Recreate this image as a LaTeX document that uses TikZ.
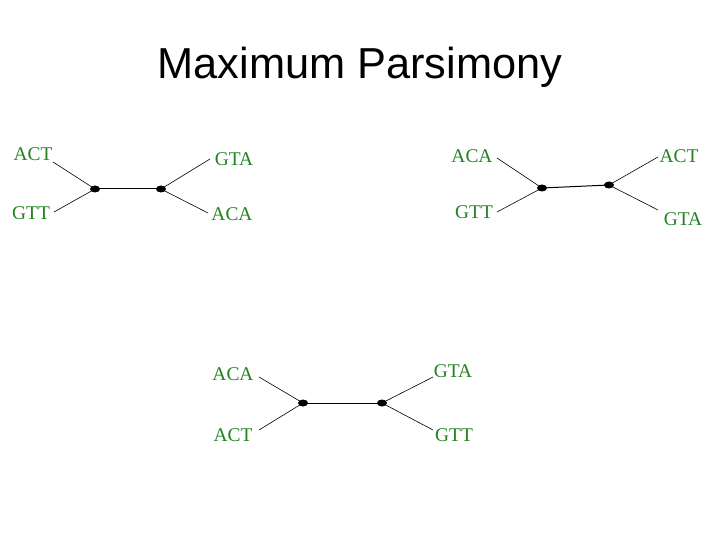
\documentclass[tikz,border=0pt]{standalone}
\usepackage{fontspec}
\usetikzlibrary{shapes.geometric}
\setmainfont{Liberation Serif}
\newfontfamily\titlefont{Liberation Sans}
\definecolor{labgreen}{RGB}{34,130,34}
\begin{document}
\begin{tikzpicture}[x=1bp,y=-1bp,
  lab/.style={inner sep=0pt,text=labgreen,font=\fontsize{19.5}{20}\selectfont},
  dot/.style={ellipse,fill=black,minimum width=10bp,minimum height=7bp,inner sep=0pt},
  edge/.style={draw=black,line width=0.6bp},
  mid/.style={draw=black,line width=1bp}]
\useasboundingbox (0,0) rectangle (720,540);
\node[inner sep=0pt,font=\titlefont\fontsize{43.5}{45}\selectfont] (title) at (360,67) {Maximum Parsimony};
% tree 1
\node[lab] (t1a) at (33,154) {ACT};
\node[lab] (t1b) at (31,213) {GTT};
\node[lab] (t1c) at (234,159) {GTA};
\node[lab] (t1d) at (232,214) {ACA};
\node[dot] (t1n1) at (95,189) {};
\node[dot] (t1n2) at (161,189) {};
\coordinate (t1ae) at (53,162);
\coordinate (t1be) at (54,212);
\coordinate (t1ce) at (210,159);
\coordinate (t1de) at (208,213);
\draw[edge] (t1ae) -- (t1n1.center) -- (t1be);
\draw[mid] (t1n1.center) -- (t1n2.center);
\draw[edge] (t1ce) -- (t1n2.center) -- (t1de);
% tree 2
\node[lab] (t2a) at (472,156) {ACA};
\node[lab] (t2b) at (474,212) {GTT};
\node[lab] (t2c) at (679,156) {ACT};
\node[lab] (t2d) at (683,219) {GTA};
\node[dot] (t2n1) at (542,188) {};
\node[dot] (t2n2) at (609,185) {};
\coordinate (t2ae) at (497,158);
\coordinate (t2be) at (497,212);
\coordinate (t2ce) at (658,157);
\coordinate (t2de) at (658,210);
\draw[edge] (t2ae) -- (t2n1.center) -- (t2be);
\draw[mid] (t2n1.center) -- (t2n2.center);
\draw[edge] (t2ce) -- (t2n2.center) -- (t2de);
% tree 3
\node[lab] (t3a) at (233,374) {ACA};
\node[lab] (t3b) at (233,435) {ACT};
\node[lab] (t3c) at (453,371) {GTA};
\node[lab] (t3d) at (454,435) {GTT};
\node[dot] (t3n1) at (303,403) {};
\node[dot] (t3n2) at (382,403) {};
\coordinate (t3ae) at (259,377);
\coordinate (t3be) at (259,430);
\coordinate (t3ce) at (433,377);
\coordinate (t3de) at (433,430);
\draw[edge] (t3ae) -- (t3n1.center) -- (t3be);
\draw[mid] (t3n1.center) -- (t3n2.center);
\draw[edge] (t3ce) -- (t3n2.center) -- (t3de);
\end{tikzpicture}
\end{document}
